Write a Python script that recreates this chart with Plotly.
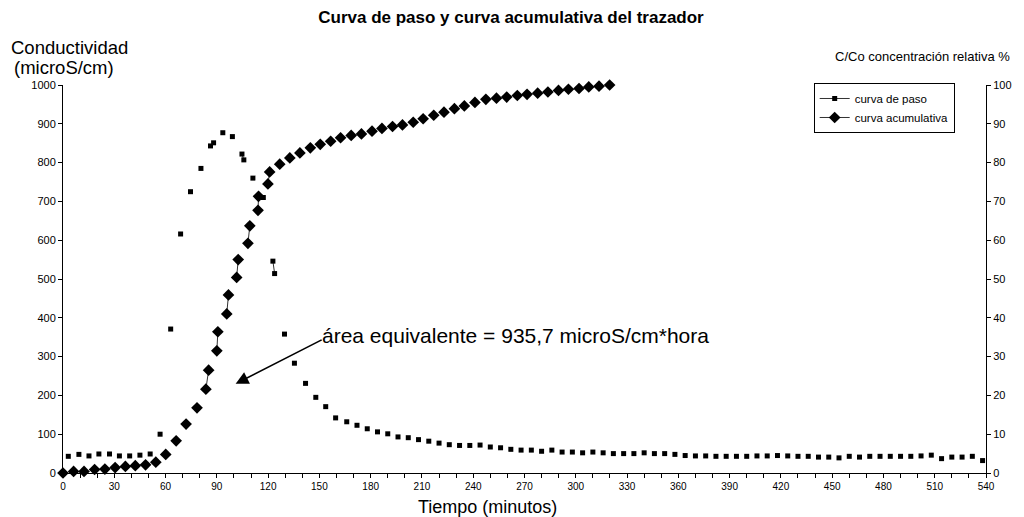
import plotly.graph_objects as go

# ---- data ----
paso_t = [3.1, 9.3, 15.2, 21.0, 27.2, 33.0, 39.0, 45.0, 51.0, 56.8, 63.0, 68.8, 74.6, 80.7,
          86.3, 88.1, 93.5, 99.1, 104.7, 105.8, 111.1, 117.2, 122.8, 123.8, 129.6, 135.4,
          141.9, 147.9, 153.7, 159.5,
          166, 172, 178, 184, 190, 196, 202, 208, 214, 220, 226, 232, 238, 244, 250, 256,
          262, 268, 274, 280, 286, 292, 298, 304, 310, 316, 322, 328, 334, 340, 346, 352,
          358, 364, 370, 376, 382, 388, 394, 400, 406, 412, 418, 424, 430, 436, 442, 448,
          454, 460, 466, 472, 478, 484, 490, 496, 502, 508, 514, 520, 526, 532, 538]
paso_v = [43, 48, 44, 49, 49, 44, 44, 46, 49, 100, 371, 616, 725, 785,
          843, 851, 877, 867, 822, 807, 760, 710, 546, 514, 358, 283,
          231, 195, 171, 142,
          132, 123, 114, 106, 101, 93, 91, 86, 82, 77, 73, 71, 71, 72, 67, 65,
          61, 59, 59, 56, 59, 54, 54, 52, 54, 52, 50, 50, 50, 52, 50, 50,
          48, 45, 44, 44, 43, 43, 43, 43, 44, 44, 45, 44, 43, 43, 41, 41,
          39, 43, 41, 43, 43, 43, 43, 43, 44, 46, 37, 41, 41, 43, 32]
# indices i where point i is joined by a line to point i+1
paso_joined = [14, 18, 22]

acum_t = [0, 6.2, 12.3, 18.5, 24.5, 30.5, 36.5, 42.3, 48.3, 54.3, 60.1, 66.2, 72.0, 78.4,
          83.6, 85.2, 90.0, 90.6, 95.8, 96.8, 101.6, 102.5, 108.2, 109.3, 114.1, 114.4,
          119.9, 120.9, 126.8, 132.7, 138.6, 144.7, 150.5, 156.6, 162.4, 168.6, 174.6,
          180.8, 186.6, 192.8, 198.6, 204.9, 210.7, 216.9, 222.9, 229.0, 234.8, 241.0,
          247.4, 253.6, 259.6, 265.8, 271.5, 277.7, 283.7, 289.9, 295.7, 301.9, 307.6,
          313.6, 319.8]
acum_v = [0, 0.4, 0.4, 0.9, 1.0, 1.4, 1.7, 1.9, 2.1, 2.8, 4.8, 8.3, 12.6, 16.8,
          21.6, 26.5, 31.5, 36.4, 41.0, 45.9, 50.4, 55.0, 59.2, 63.7, 67.7, 71.3,
          74.5, 77.6, 79.6, 81.2, 82.5, 83.8, 84.7, 85.5, 86.4, 87.0, 87.4,
          88.1, 88.8, 89.3, 89.7, 90.4, 91.3, 92.2, 93.0, 93.9, 94.6, 95.5,
          96.3, 96.6, 96.9, 97.3, 97.6, 97.9, 98.2, 98.6, 98.9, 99.1, 99.5,
          99.7, 100]
acum_joined = [14, 16, 18, 20, 22, 24, 26]

x_ticks = list(range(0, 541, 30))
left_ticks = list(range(0, 1001, 100))
right_ticks = list(range(0, 101, 10))


def with_gaps(xs, ys, joined):
    ox, oy = [], []
    for i, (a, b) in enumerate(zip(xs, ys)):
        ox.append(a)
        oy.append(b)
        if i not in joined and i < len(xs) - 1:
            ox.append(None)
            oy.append(None)
    return ox, oy


FONT = "Arial, Liberation Sans, sans-serif"
fig = go.Figure()

px_, py_ = with_gaps(paso_t, paso_v, paso_joined)
fig.add_trace(go.Scatter(
    x=px_, y=py_, mode="lines+markers", name="curva de paso",
    line=dict(color="#333333", width=1), connectgaps=False,
    marker=dict(symbol="square", size=5, color="black"),
    cliponaxis=False, xaxis="x", yaxis="y"))

ax_, ay_ = with_gaps(acum_t, acum_v, acum_joined)
fig.add_trace(go.Scatter(
    x=ax_, y=ay_, mode="lines+markers", name="curva acumulativa",
    line=dict(color="#333333", width=1), connectgaps=False,
    marker=dict(symbol="diamond", size=9, color="black"),
    cliponaxis=False, xaxis="x", yaxis="y2"))

xtickfont = dict(family=FONT, size=10, color="black")
ytickfont = dict(family=FONT, size=11, color="black")
# page has an 8px body margin: figure is 1016x509 placed at (8, 8)
fig.update_layout(
    width=1016, height=509,
    margin=dict(l=55, r=29, t=77, b=44.3),
    paper_bgcolor="white", plot_bgcolor="white",
    font=dict(family=FONT, color="black"),
    title=dict(text="<b>Curva de paso y curva acumulativa del trazador</b>",
               x=503 / 1016, xanchor="center", y=1 - 9.5 / 509, yanchor="middle",
               font=dict(family=FONT, size=17, color="black")),
    xaxis=dict(range=[0, 540], tickvals=x_ticks, ticks="outside", ticklen=4,
               tickcolor="black", showline=True, linecolor="black", linewidth=1,
               showgrid=False, zeroline=False, tickfont=xtickfont,
               minor=dict(dtick=10, ticks="outside", ticklen=4, tickcolor="black")),
    xaxis2=dict(range=[0, 540], overlaying="x", anchor="y", side="bottom",
                dtick=10, ticks="inside", ticklen=4, tickcolor="black",
                showticklabels=False, showline=False, showgrid=False, zeroline=False),
    yaxis=dict(range=[0, 1000], tickvals=left_ticks, ticks="outside", ticklen=4,
               tickcolor="black", showline=True, linecolor="black", linewidth=1,
               showgrid=False, zeroline=False, tickfont=ytickfont),
    yaxis2=dict(range=[0, 100], tickvals=right_ticks, overlaying="y", side="right",
                anchor="x", ticks="outside", ticklen=4, tickcolor="black",
                showline=True, linecolor="black", linewidth=1,
                showgrid=False, zeroline=False, tickfont=ytickfont),
    yaxis3=dict(range=[0, 1000], tickvals=left_ticks, overlaying="y", side="left",
                anchor="x", ticks="inside", ticklen=4, tickcolor="black",
                showticklabels=False, showline=False, showgrid=False, zeroline=False),
    yaxis4=dict(range=[0, 100], tickvals=right_ticks, overlaying="y", side="right",
                anchor="x", ticks="inside", ticklen=4, tickcolor="black",
                showticklabels=False, showline=False, showgrid=False, zeroline=False),
    legend=dict(x=(821 - 63) / 932, y=(472.7 - 83) / 387.7, xanchor="left", yanchor="top",
                bgcolor="white", bordercolor="black", borderwidth=1,
                font=dict(family=FONT, size=11.5, color="black"),
                tracegroupgap=0, itemwidth=30),
    showlegend=True,
)

ann = []
ann.append(dict(xref="paper", yref="paper", x=(8 - 63) / 932, y=(472.7 - 48) / 387.7,
                xanchor="left", yanchor="middle", showarrow=False,
                text="Conductividad", font=dict(family=FONT, size=18.5, color="black")))
ann.append(dict(xref="paper", yref="paper", x=(12 - 63) / 932, y=(472.7 - 68) / 387.7,
                xanchor="left", yanchor="middle", showarrow=False,
                text="(microS/cm)", font=dict(family=FONT, size=18.5, color="black")))
ann.append(dict(xref="paper", yref="paper", x=(1021 - 63) / 932, y=(472.7 - 57) / 387.7,
                xanchor="right", yanchor="middle", showarrow=False,
                text="C/Co concentración relativa %", font=dict(family=FONT, size=13, color="black")))
ann.append(dict(xref="paper", yref="paper", x=(492 - 63) / 932, y=(472.7 - 507) / 387.7,
                xanchor="center", yanchor="middle", showarrow=False,
                text="Tiempo (minutos)", font=dict(family=FONT, size=18, color="black")))
ann.append(dict(xref="x", yref="y", x=150.6, y=355, xanchor="left", yanchor="middle",
                showarrow=False, text="área equivalente = 935,7 microS/cm*hora",
                font=dict(family=FONT, size=21, color="black")))
ann.append(dict(xref="x", yref="y", x=101, y=230, axref="x", ayref="y", ax=152.2, ay=345,
                text="", showarrow=True, arrowhead=2, arrowsize=1.6, arrowwidth=1.6,
                arrowcolor="black"))
fig.update_layout(annotations=ann)

fig.write_html("out.html")
